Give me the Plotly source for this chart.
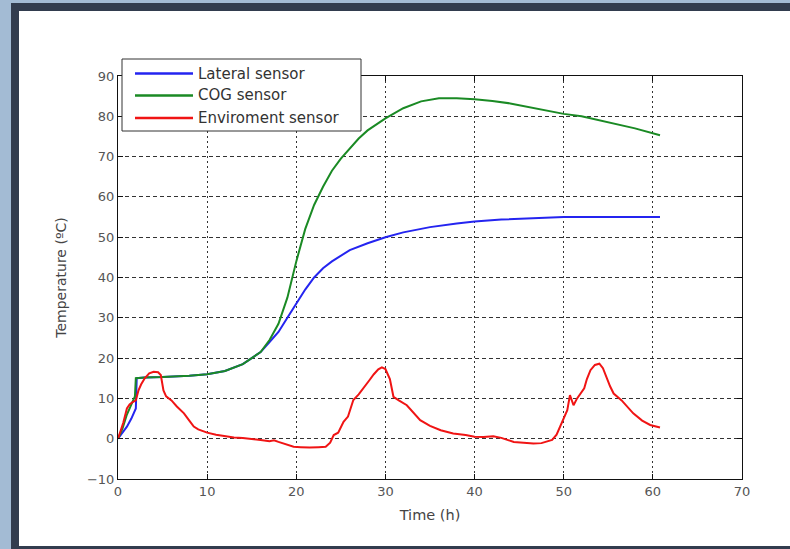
import plotly.graph_objects as go

# ---------------- data ----------------
lateral_t = [0, 0.5, 1, 1.5, 2, 2.1, 3, 5, 8, 10, 12, 14, 15, 16, 17, 18, 19, 20, 21, 22, 23, 24, 25, 26,
             28, 30, 32, 35, 38, 40, 43, 45, 48, 50, 52, 55, 58, 60.8]
lateral_v = [0, 1.5, 3, 5, 7.5, 15, 15.2, 15.3, 15.6, 16, 16.8, 18.5, 20, 21.5, 24, 26.5, 30, 33.5, 37, 40,
             42.3, 44, 45.5, 46.8, 48.5, 50, 51.2, 52.5, 53.4, 53.9, 54.4, 54.6, 54.8, 55, 55, 55, 55, 55]

cog_t = [0, 0.5, 1, 1.5, 1.9, 2.0, 3, 5, 8, 10, 12, 14, 15, 16, 17, 18, 19, 20, 21, 22, 23, 24, 25, 26, 27,
         28, 30, 32, 34, 36, 38, 40, 42, 44, 46, 48, 50, 52, 54, 56, 58, 60.8]
cog_v = [0, 2.5, 6, 8.5, 10.5, 15, 15.2, 15.3, 15.6, 16, 16.8, 18.5, 20, 21.5, 24.5, 28.5, 35, 44, 52, 58,
         62.5, 66.5, 69.5, 72, 74.5, 76.5, 79.5, 82, 83.7, 84.5, 84.5, 84.2, 83.8, 83.2, 82.3, 81.5, 80.6,
         80, 79, 78, 77, 75.3]

env_t = [0, 0.3, 0.6, 1, 1.3, 1.6, 2, 2.3, 2.6, 3, 3.5, 4, 4.5, 4.8, 5.1, 5.4, 6, 6.6, 7.4, 8, 8.5, 9, 10,
         11, 12, 13, 14, 15, 16, 17, 17.5, 18, 18.5, 19, 19.7, 20.5, 21.5, 22.5, 23.3, 23.8, 24.2, 24.7,
         25.3, 25.8, 26.4, 27, 27.6, 28.2, 28.7, 29.2, 29.6, 30, 30.5, 30.9, 31.5, 32.4, 33.9, 35, 36.2,
         37.6, 39, 40, 41, 42.1, 43, 44.4, 45.5, 46.6, 47.5, 48.7, 49.2, 49.6, 50, 50.4, 50.7, 51.1, 51.5,
         51.9, 52.3, 52.6, 53, 53.5, 54, 54.4, 54.8, 55.2, 55.6, 56.5, 57.8, 58.8, 59.7, 60.8]
env_v = [0, 2, 4, 7.5, 8.5, 9, 9.5, 12, 13.5, 15, 16.2, 16.6, 16.5, 15.8, 12, 10.5, 9.5, 8, 6.3, 4.5, 3,
         2.3, 1.5, 1, 0.7, 0.3, 0.2, 0, -0.3, -0.6, -0.4, -0.8, -1.2, -1.6, -2, -2.1, -2.2, -2.1, -2, -1,
         0.9, 1.5, 4.2, 5.5, 9.6, 11, 12.9, 14.5, 16, 17.2, 17.7, 17.3, 14.8, 10.4, 9.5, 8.3, 4.6, 3.2,
         2.1, 1.3, 0.9, 0.5, 0.4, 0.6, 0.2, -0.8, -1, -1.2, -1.1, -0.3, 1, 3, 5, 7.1, 10.8, 8.3, 10, 11.2,
         12.5, 14.8, 17, 18.3, 18.6, 17.5, 15, 13, 11.2, 9.5, 6.3, 4.5, 3.4, 2.8]

series_names = ["Lateral sensor", "COG sensor", "Enviroment sensor"]
series_colors = ["#2424f0", "#1a8a24", "#f01414"]

x_ticks = [0, 10, 20, 30, 40, 50, 60, 70]
y_ticks = [-10, 0, 10, 20, 30, 40, 50, 60, 70, 80, 90]

# ---------------- figure ----------------
W, H = 790, 549
L, R, T, B = 118, 48, 76, 70
PW, PH = W - L - R, H - T - B


def px(x):
    return (x - L) / PW


def py(y):
    return (H - B - y) / PH


fig = go.Figure()
for name, tt, vv, col in zip(series_names, [lateral_t, cog_t, env_t], [lateral_v, cog_v, env_v],
                             series_colors):
    fig.add_trace(go.Scatter(x=tt, y=vv, mode="lines", name=name,
                             line=dict(color=col, width=2), showlegend=False))

tick_font = dict(family="DejaVu Sans", size=13, color="#555555")
axis_common = dict(showline=True, linecolor="#111111", linewidth=1, mirror="ticks",
                   ticks="inside", ticklen=5, tickcolor="#111111", zeroline=False,
                   showgrid=True, gridcolor="#333333", gridwidth=1, tickfont=tick_font)

fig.update_xaxes(range=[0, 70], tickvals=x_ticks, griddash="2px,3px",
                 title=dict(text="Time (h)", font=dict(family="DejaVu Sans", size=14.5, color="#444444"),
                            standoff=12),
                 **axis_common)
fig.update_yaxes(range=[-10, 90], tickvals=y_ticks, griddash="4px,3px",
                 title=dict(text="Temperature (ºC)", font=dict(family="DejaVu Sans", size=14, color="#444444"),
                            standoff=17),
                 **axis_common)

shapes = [
    # outer frame (light blue strip, dark navy border, white inner panel)
    dict(type="rect", xref="paper", yref="paper", x0=px(0), x1=px(W), y0=py(H), y1=py(0),
         fillcolor="#a3bbd4", line=dict(width=0), layer="below"),
    dict(type="rect", xref="paper", yref="paper", x0=px(11), x1=px(W), y0=py(H), y1=py(3),
         fillcolor="#323c4e", line=dict(width=0), layer="below"),
    dict(type="rect", xref="paper", yref="paper", x0=px(19), x1=px(W), y0=py(546), y1=py(11),
         fillcolor="#ffffff", line=dict(width=0), layer="below"),
    # legend box
    dict(type="rect", xref="paper", yref="paper", x0=px(122), x1=px(361), y0=py(131), y1=py(59),
         fillcolor="#ffffff", line=dict(color="#333333", width=1), layer="above"),
]
annotations = []
legend_rows = [73.5, 95.5, 118]
for name, col, yy in zip(series_names, series_colors, legend_rows):
    shapes.append(dict(type="line", xref="paper", yref="paper", x0=px(135), x1=px(193),
                       y0=py(yy), y1=py(yy), line=dict(color=col, width=2.5), layer="above"))
    annotations.append(dict(xref="paper", yref="paper", x=px(196), y=py(yy), text=name,
                            showarrow=False, xanchor="left", yanchor="middle",
                            font=dict(family="DejaVu Sans", size=15, color="#333333")))

fig.update_layout(width=W, height=H, margin=dict(l=L, r=R, t=T, b=B, pad=0),
                  paper_bgcolor="#ffffff", plot_bgcolor="rgba(0,0,0,0)",
                  shapes=shapes, annotations=annotations, showlegend=False)

fig.write_html("out.html", config={"displayModeBar": False},
               post_script="document.body.style.margin='0px';document.body.style.overflow='hidden';")
